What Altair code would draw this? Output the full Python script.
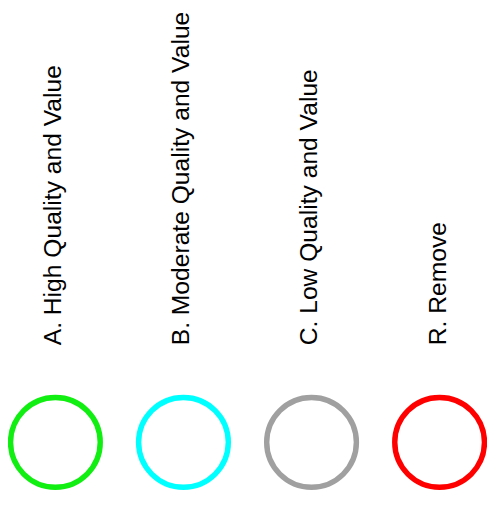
import altair as alt
import pandas as pd

categories = ["A. High Quality and Value", "B. Moderate Quality and Value",
              "C. Low Quality and Value", "R. Remove"]
colors = ["#11ee11", "#00ffff", "#a0a0a0", "#ff0000"]

df = pd.DataFrame({"category": categories, "color": colors})

chart = alt.Chart(df).mark_point(
    shape="circle", filled=False, size=8281, strokeWidth=5.5, opacity=1
).encode(
    x=alt.X("category:N", sort=categories,
            scale=alt.Scale(type="point", padding=0.37),
            axis=alt.Axis(orient="top", title=None, labelAngle=-90,
                          labelFont="Liberation Sans", labelFontSize=25,
                          labelColor="#000000", labelPadding=3,
                          labelOffset=-2.5, ticks=False, tickSize=0,
                          domain=False, grid=False, labelLimit=0)),
    y=alt.value(96),
    color=alt.Color("color:N", scale=None),
).properties(
    width=486, height=165,
    autosize=alt.AutoSizeParams(type="none"),
    padding={"left": 0, "top": 341, "right": 0, "bottom": 0},
).configure_view(stroke=None)

chart.save("out.html", embed_options={"renderer": "svg", "actions": False})
